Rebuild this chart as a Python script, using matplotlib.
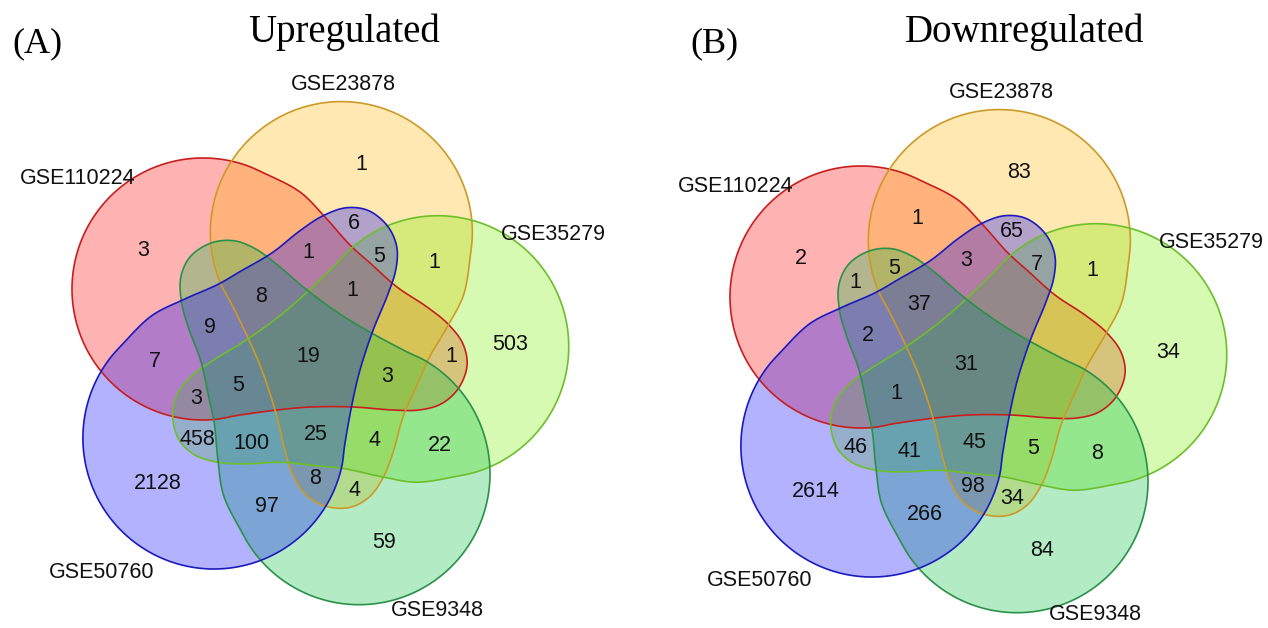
import numpy as np
import matplotlib.pyplot as plt
from matplotlib.patches import Polygon
from matplotlib.colors import to_rgba

plt.rcParams['font.family'] = 'Liberation Sans'

# the five datasets, in the order they sit clockwise around the diagram
set_names = ['GSE110224', 'GSE23878', 'GSE35279', 'GSE9348', 'GSE50760']

# region counts; index k means the region built from set k (and its neighbours
# going clockwise), zero regions are left blank
up_single = [3, 1, 503, 59, 2128]      # only set k
up_pair_next = [0, 1, 22, 97, 7]       # sets k, k+1
up_pair_skip = [1, 4, 458, 0, 6]       # sets k, k+2
up_triple_run = [0, 4, 100, 9, 1]      # sets k, k+1, k+2
up_triple_gap = [0, 5, 0, 8, 3]        # sets k, k+1, k+3
up_quad = [25, 5, 8, 1, 3]             # every set but k
up_all = 19

down_single = [2, 83, 34, 84, 2614]
down_pair_next = [1, 1, 8, 266, 0]
down_pair_skip = [0, 34, 46, 1, 65]
down_triple_run = [0, 5, 41, 2, 3]
down_triple_gap = [5, 7, 0, 98, 0]
down_quad = [45, 1, 37, 0, 0]
down_all = 31

fill_colors = ['#ff0000', '#ffb400', '#78f000', '#00be3c', '#0000ff']
edge_colors = ['#c81e1e', '#cd9a28', '#6cbf2a', '#2a9148', '#1a1abf']

# outline of the first set, relative to the diagram centre (y up):
# a round body plus a tail that reaches across to the far side
body_c = np.array([-108.0, 67.0])
body_r = 131.0
arc = np.deg2rad(np.linspace(62, 285, 24))
body = body_c + body_r * np.column_stack([np.cos(arc), np.sin(arc)])
tail = np.array([
    (-34, -54), (0, -51), (42, -51), (82, -54), (108, -54), (130, -48),
    (147, -33), (156, -10), (152, 12), (137, 32), (116, 49), (86, 69),
    (59, 93), (39, 111), (14, 139), (-11, 164),
], dtype=float)
outline = np.vstack([body, tail])

# label anchors for region type, first member of each family
anchor = {
    'single': (-168, 107),
    'pair_next': (-52, 147),
    'pair_skip': (140, 0),
    'triple_run': (99, 35),
    'triple_gap': (-75, 96),
    'quad': (5, -78),
    'all': (-3, 1),
}

# set name positions for panel A (pixels), panel B is shifted
name_xy = [(78, 178), (343, 85), (553, 235), (437, 611), (102, 572)]


def catmull_rom(pts, n=16):
    # closed centripetal Catmull-Rom through pts
    P = np.asarray(pts, float)
    m = len(P)
    out = []
    for i in range(m):
        p0, p1, p2, p3 = P[i - 1], P[i], P[(i + 1) % m], P[(i + 2) % m]
        t0 = 0.0
        t1 = t0 + np.linalg.norm(p1 - p0) ** 0.5
        t2 = t1 + np.linalg.norm(p2 - p1) ** 0.5
        t3 = t2 + np.linalg.norm(p3 - p2) ** 0.5
        t = np.linspace(t1, t2, n, endpoint=False)[:, None]
        a1 = (t1 - t) / (t1 - t0) * p0 + (t - t0) / (t1 - t0) * p1
        a2 = (t2 - t) / (t2 - t1) * p1 + (t - t1) / (t2 - t1) * p2
        a3 = (t3 - t) / (t3 - t2) * p2 + (t - t2) / (t3 - t2) * p3
        b1 = (t2 - t) / (t2 - t0) * a1 + (t - t0) / (t2 - t0) * a2
        b2 = (t3 - t) / (t3 - t1) * a2 + (t - t1) / (t3 - t1) * a3
        out.append((t2 - t) / (t2 - t1) * b1 + (t - t1) / (t2 - t1) * b2)
    return np.vstack(out)


def rotate(xy, k):
    # turn set 0 geometry into set k (72 degrees clockwise per step)
    a = np.deg2rad(-72 * k)
    rot = np.array([[np.cos(a), -np.sin(a)], [np.sin(a), np.cos(a)]])
    return np.asarray(xy, float) @ rot.T


def to_px(xy, cx, cy):
    xy = np.atleast_2d(xy)
    return np.column_stack([cx + xy[:, 0], cy - xy[:, 1]])


shape = catmull_rom(outline)


def draw_panel(ax, cx, cy, dx, dy, families, total):
    for k in range(5):
        pts = to_px(rotate(shape, k), cx, cy)
        ax.add_patch(Polygon(pts, closed=True, facecolor=to_rgba(fill_colors[k], 0.3),
                             edgecolor='none', zorder=1))
    for k in range(5):
        pts = to_px(rotate(shape, k), cx, cy)
        ax.add_patch(Polygon(pts, closed=True, fill=False, edgecolor=edge_colors[k],
                             lw=1.2, zorder=2))
    for key, values in families.items():
        for k, v in enumerate(values):
            if v == 0:
                continue
            x, y = to_px(rotate(anchor[key], k), cx, cy)[0]
            ax.text(x, y + 1, str(v), ha='center', va='center', fontsize=15.5,
                    color='#111111', zorder=3)
    x, y = to_px(anchor['all'], cx, cy)[0]
    ax.text(x, y + 1, str(total), ha='center', va='center', fontsize=15.5,
            color='#111111', zorder=3)
    for name, (x, y) in zip(set_names, name_xy):
        # keep the bottom names inside the canvas
        ax.text(x + dx, min(y + dy, 614), name, ha='center', va='center',
                fontsize=15.5, color='#111111', zorder=3)


W, H = 1268, 628
fig = plt.figure(figsize=(W / 100, H / 100), dpi=100)
ax = fig.add_axes([0, 0, 1, 1])
ax.set_xlim(0, W)
ax.set_ylim(H, 0)
ax.axis('off')

up = {'single': up_single, 'pair_next': up_pair_next, 'pair_skip': up_pair_skip,
      'triple_run': up_triple_run, 'triple_gap': up_triple_gap, 'quad': up_quad}
down = {'single': down_single, 'pair_next': down_pair_next, 'pair_skip': down_pair_skip,
        'triple_run': down_triple_run, 'triple_gap': down_triple_gap, 'quad': down_quad}

draw_panel(ax, 311, 356, 0, 0, up, up_all)
draw_panel(ax, 969, 364, 658, 8, down, down_all)

serif = 'Liberation Serif'
ax.text(12, 52, '(A)', family=serif, fontsize=26, ha='left', va='baseline')
ax.text(248, 42, 'Upregulated', family=serif, fontsize=28, ha='left', va='baseline')
ax.text(690, 52, '(B)', family=serif, fontsize=26, ha='left', va='baseline')
ax.text(905, 42, 'Downregulated', family=serif, fontsize=28, ha='left', va='baseline')

fig.savefig('out.png', dpi=100)
